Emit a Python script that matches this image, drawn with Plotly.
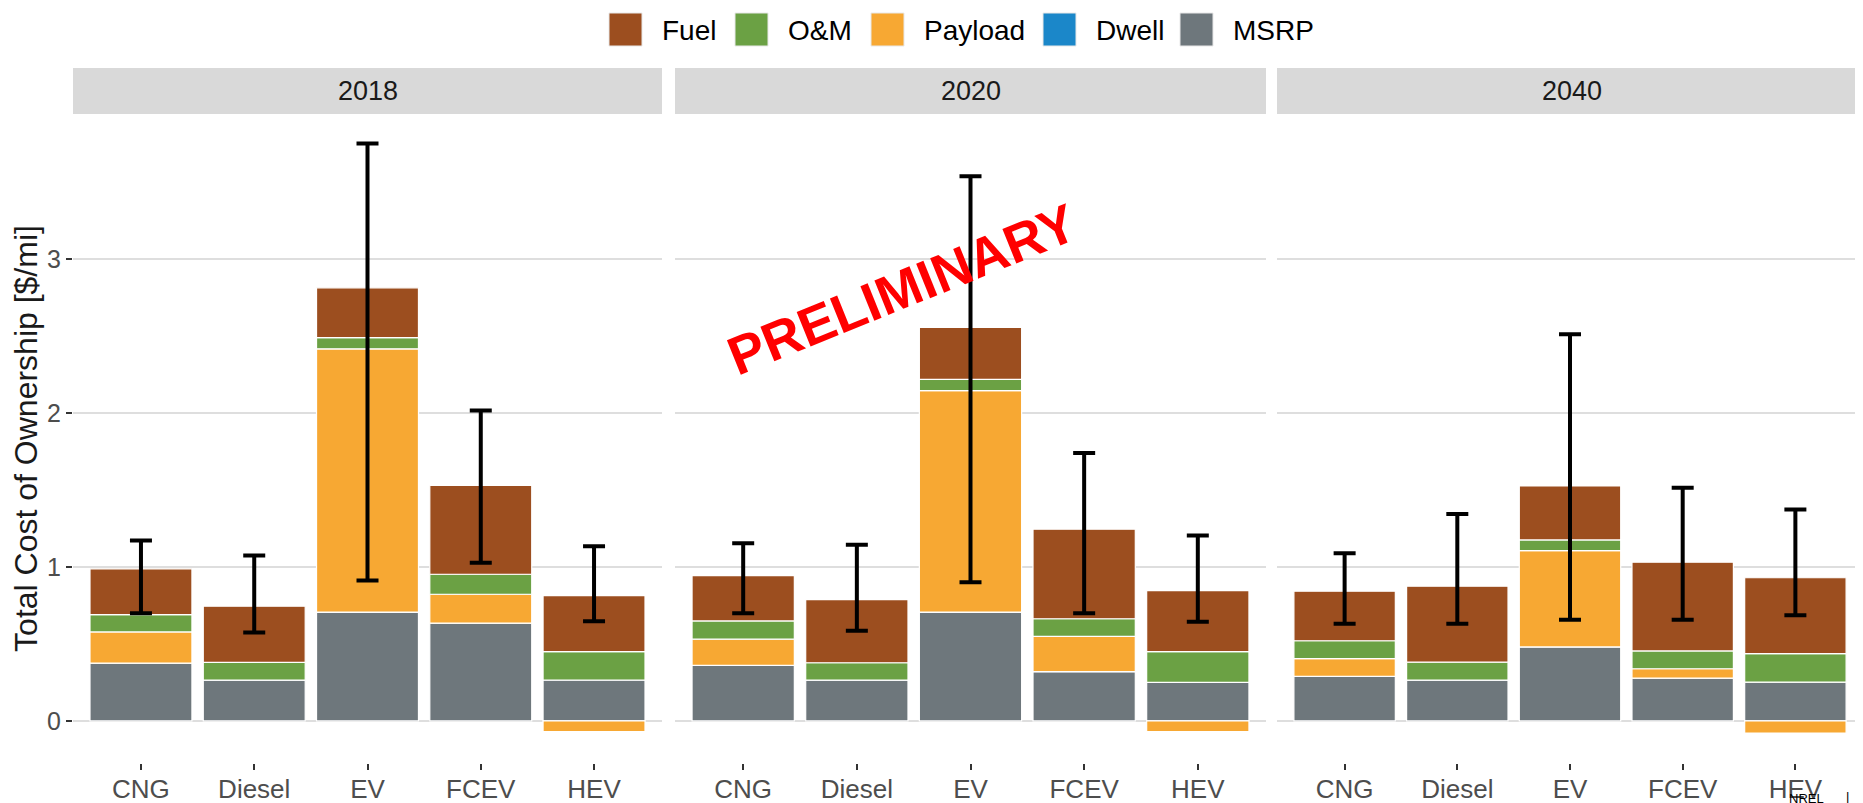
import numpy as np
import plotly.graph_objects as go

# ---------------- data ----------------
years = ["2018", "2020", "2040"]
vehicles = ["CNG", "Diesel", "EV", "FCEV", "HEV"]

msrp_2018 = [0.375, 0.266, 0.707, 0.635, 0.266]
dwell_2018 = [0.0, 0.0, 0.0, 0.0, 0.0]
payload_2018 = [0.203, 0.0, 1.710, 0.188, -0.069]
om_2018 = [0.112, 0.115, 0.072, 0.130, 0.184]
fuel_2018 = [0.298, 0.364, 0.324, 0.577, 0.364]
err_lo_2018 = [0.699, 0.575, 0.912, 1.028, 0.647]
err_hi_2018 = [1.172, 1.074, 3.751, 2.016, 1.135]

msrp_2020 = [0.361, 0.266, 0.707, 0.321, 0.251]
dwell_2020 = [0.0, 0.0, 0.0, 0.0, 0.0]
payload_2020 = [0.170, 0.0, 1.439, 0.228, -0.069]
om_2020 = [0.119, 0.112, 0.072, 0.115, 0.199]
fuel_2020 = [0.294, 0.410, 0.338, 0.581, 0.396]
err_lo_2020 = [0.699, 0.586, 0.901, 0.699, 0.644]
err_hi_2020 = [1.155, 1.144, 3.537, 1.741, 1.204]

msrp_2040 = [0.290, 0.266, 0.481, 0.278, 0.252]
dwell_2040 = [0.0, 0.0, 0.0, 0.0, 0.0]
payload_2040 = [0.115, 0.0, 0.625, 0.061, -0.078]
om_2040 = [0.116, 0.116, 0.070, 0.116, 0.185]
fuel_2040 = [0.322, 0.493, 0.350, 0.576, 0.493]
err_lo_2040 = [0.631, 0.631, 0.657, 0.657, 0.686]
err_hi_2040 = [1.089, 1.344, 2.511, 1.515, 1.373]

y_ticks = [0, 1, 2, 3]

# stacking order bottom -> top
series_names = ["MSRP", "Dwell", "Payload", "O&M", "Fuel"]
series_colors = {
    "Fuel": "#9C4E1F",
    "O&M": "#6BA144",
    "Payload": "#F7A833",
    "Dwell": "#1B87C9",
    "MSRP": "#6E777C",
}
legend_order = ["Fuel", "O&M", "Payload", "Dwell", "MSRP"]

year_data = {
    "2018": {"MSRP": msrp_2018, "Dwell": dwell_2018, "Payload": payload_2018,
             "O&M": om_2018, "Fuel": fuel_2018, "lo": err_lo_2018, "hi": err_hi_2018},
    "2020": {"MSRP": msrp_2020, "Dwell": dwell_2020, "Payload": payload_2020,
             "O&M": om_2020, "Fuel": fuel_2020, "lo": err_lo_2020, "hi": err_hi_2020},
    "2040": {"MSRP": msrp_2040, "Dwell": dwell_2040, "Payload": payload_2040,
             "O&M": om_2040, "Fuel": fuel_2040, "lo": err_lo_2040, "hi": err_hi_2040},
}

# ---------------- layout geometry (screen pixels) ----------------
OFF = 8                       # default page body margin
W, H = 1863 - OFF, 803 - OFF  # figure size so it fills the window exactly
ML, MR, MT, MB = 73 - OFF, 0, 114 - OFF, 40
PW, PH = W - ML - MR, H - MT - MB


def px_x(sx):
    return (sx - OFF - ML) / PW


def px_y(sy):
    return (H - MB - (sy - OFF)) / PH


panel_px = [(73, 662), (675, 1266), (1277, 1866)]
domains = [[max(0, px_x(a)), min(1, px_x(b))] for a, b in panel_px]

FONT = "Liberation Sans, Arial, sans-serif"

fig = go.Figure()

for i, yr in enumerate(years):
    sfx = "" if i == 0 else str(i + 1)
    d = year_data[yr]
    for name in series_names:
        fig.add_trace(go.Bar(
            x=vehicles, y=d[name], name=name,
            marker=dict(color=series_colors[name], line=dict(color="white", width=1.2)),
            xaxis="x" + sfx, yaxis="y" + sfx, showlegend=False,
        ))
    lo = np.array(d["lo"])
    hi = np.array(d["hi"])
    fig.add_trace(go.Scatter(
        x=vehicles, y=(lo + hi) / 2, mode="markers",
        marker=dict(size=2, color="rgba(0,0,0,0)"),
        error_y=dict(type="data", symmetric=True, array=(hi - lo) / 2,
                     color="black", thickness=4, width=11),
        xaxis="x" + sfx, yaxis="y" + sfx, showlegend=False, hoverinfo="skip",
    ))

layout = dict(
    width=W, height=H,
    margin=dict(l=ML, r=MR, t=MT, b=MB, autoexpand=False),
    paper_bgcolor="white", plot_bgcolor="white",
    barmode="relative", bargap=0.1,
    showlegend=False,
    font=dict(family=FONT, color="#4D4D4D"),
)

for i in range(3):
    sfx = "" if i == 0 else str(i + 1)
    layout["xaxis" + sfx] = dict(
        domain=domains[i], anchor="y" + sfx, type="category",
        range=[-0.6, 4.6], showgrid=False, zeroline=False, showline=False,
        ticks="outside", ticklen=6, tickwidth=1.5, tickcolor="#333333",
        tickfont=dict(size=26, color="#4D4D4D", family=FONT),
        ticklabelstandoff=-3, automargin=False,
    )
    ya = dict(
        domain=[0, 1], anchor="x" + sfx, range=[-0.273, 3.942],
        tickvals=y_ticks, showgrid=True, gridcolor="#DEDEDE", gridwidth=1.6,
        zeroline=False, showline=False, automargin=False,
    )
    if i == 0:
        ya.update(ticks="outside", ticklen=6, tickwidth=1.5, tickcolor="#333333",
                  tickfont=dict(size=25, color="#4D4D4D", family=FONT),
                  title=dict(text="Total Cost of Ownership [$/mi]",
                             font=dict(size=32, color="#1A1A1A", family=FONT),
                             standoff=6))
    else:
        ya.update(showticklabels=False, ticks="", matches="y")
    layout["yaxis" + sfx] = ya

fig.update_layout(**layout)

# facet strips
for i, yr in enumerate(years):
    fig.add_shape(type="rect", xref="paper", yref="paper",
                  x0=domains[i][0], x1=px_x(panel_px[i][1]),
                  y0=px_y(114), y1=px_y(68),
                  fillcolor="#D9D9D9", line=dict(width=0), layer="below")
    fig.add_annotation(text=yr, xref="paper", yref="paper",
                       x=(px_x(panel_px[i][0]) + px_x(panel_px[i][1])) / 2,
                       y=px_y(91), showarrow=False,
                       font=dict(size=27, color="#1A1A1A", family=FONT),
                       xanchor="center", yanchor="middle")

# legend (drawn at the top, centred)
legend_sq_px = [609, 735, 871, 1043, 1180]
for name, sx in zip(legend_order, legend_sq_px):
    fig.add_shape(type="rect", xref="paper", yref="paper",
                  x0=px_x(sx), x1=px_x(sx + 33), y0=px_y(46), y1=px_y(13),
                  fillcolor=series_colors[name], line=dict(color="#E8E8E8", width=1))
    fig.add_annotation(text=name, xref="paper", yref="paper",
                       x=px_x(sx + 51), y=px_y(30), showarrow=False,
                       xanchor="left", yanchor="middle",
                       font=dict(size=28, color="#000000", family=FONT))

# watermark
fig.add_annotation(text="<b>PRELIMINARY</b>", xref="paper", yref="paper",
                   x=px_x(902), y=px_y(289), showarrow=False, textangle=-22,
                   xanchor="center", yanchor="middle",
                   font=dict(size=54, color="#FF0000", family=FONT))

# footer
fig.add_annotation(text="NREL", xref="paper", yref="paper",
                   x=px_x(1806), y=px_y(798), showarrow=False,
                   xanchor="center", yanchor="middle",
                   font=dict(size=13, color="#000000", family=FONT))
fig.add_annotation(text="|", xref="paper", yref="paper",
                   x=px_x(1847), y=px_y(796), showarrow=False,
                   xanchor="center", yanchor="middle",
                   font=dict(size=13, color="#000000", family=FONT))

fig.write_html("out.html")
